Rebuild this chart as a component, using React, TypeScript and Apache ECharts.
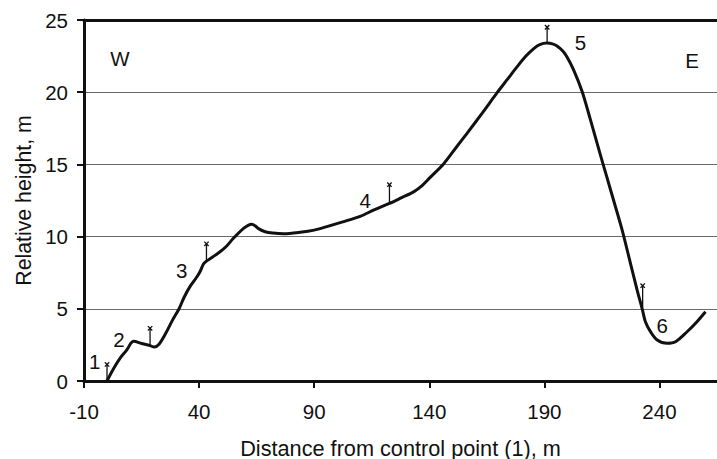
import React, { useEffect, useRef } from "react";
import * as echarts from "echarts";

// Terrain profile (distance m, relative height m)
const profileX = [
  0, 3, 6, 8.6, 10.3, 11.5, 15, 18.7, 20.5, 22.6, 25.5, 28.4, 31.3, 33.5, 36.1, 39, 40.5, 41.9, 43.2,
  46, 49.1, 52, 54.9, 59.3, 61.5, 62.9, 64.3, 65.8, 68.7, 72, 76.7, 83.9, 90, 95.5, 102, 110, 116,
  122.7, 128, 133.2, 137, 140.4, 146.2, 152, 156.4, 163, 169.4, 174, 178.1, 182, 185.4, 188, 191.2,
  193.5, 195.5, 198, 199.9, 202.7, 206.4, 210, 214, 217, 220.1, 223.8, 227.4, 230.3, 232.5, 233.9,
  236.1, 239, 243.3, 247, 252, 256.3, 260,
];
const profileY = [
  0, 0.9, 1.65, 2.15, 2.6, 2.75, 2.6, 2.45, 2.35, 2.55, 3.3, 4.2, 5.0, 5.8, 6.55, 7.2, 7.6, 8.1, 8.3,
  8.6, 8.95, 9.35, 9.88, 10.57, 10.8, 10.85, 10.75, 10.55, 10.34, 10.25, 10.2, 10.3, 10.45, 10.69, 11.0,
  11.4, 11.85, 12.3, 12.7, 13.1, 13.55, 14.1, 15.03, 16.24, 17.15, 18.55, 19.95, 20.9, 21.75, 22.5, 23.02,
  23.3, 23.4, 23.35, 23.2, 22.85, 22.42, 21.55, 20.05, 18.1, 15.85, 14.2, 12.5, 10.45, 8.15, 6.3, 5.0,
  4.11, 3.42, 2.84, 2.61, 2.72, 3.41, 4.11, 4.8,
];

// Measurement markers (vertical stick with a cross on top)
const markerX = [0, 18.7, 43.2, 122.7, 191.2, 232.7];
const markerBase = [0, 2.42, 8.3, 12.3, 23.4, 5.1];
const markerTop = [1.15, 3.65, 9.5, 13.6, 24.5, 6.6];

// Point numbers
const pointLabels = ["1", "2", "3", "4", "5", "6"];
const pointLabelX = [-5.3, 5.2, 32.5, 112.2, 205.7, 241.2];
const pointLabelY = [1.34, 2.84, 7.64, 12.53, 23.43, 3.83];

// Side labels
const sideLabels = ["W", "E"];
const sideLabelX = [5.65, 254.2];
const sideLabelY = [22.35, 22.2];

const xTicks = [-10, 40, 90, 140, 190, 240];

const FONT = '"Liberation Sans", Arial, Helvetica, sans-serif';
const INK = "#111111";

export default function App() {
  const ref = useRef<HTMLDivElement>(null);
  useEffect(() => {
    if (!ref.current) return;
    const chart = echarts.init(ref.current, undefined, { renderer: "svg" });
    const profile = profileX.map((x, i) => [x, profileY[i]]);
    const markers = markerX.map((x, i) => [x, markerBase[i], markerTop[i]]);
    const annos = [
      ...pointLabels.map((n, i) => ({ name: n, value: [pointLabelX[i], pointLabelY[i]] })),
      ...sideLabels.map((n, i) => ({ name: n, value: [sideLabelX[i], sideLabelY[i]] })),
    ];
    chart.setOption({
      animation: false,
      backgroundColor: "#fff",
      textStyle: { fontFamily: FONT, color: INK },
      grid: { left: 84, top: 20, right: 0, bottom: 78, containLabel: false, outerBoundsMode: "none" },
      xAxis: [
        {
          type: "value",
          min: -10,
          max: 265,
          interval: 50,
          position: "bottom",
          name: "Distance from control point (1), m",
          nameLocation: "middle",
          nameGap: 56,
          nameTextStyle: { fontSize: 21.7, color: INK, fontFamily: FONT },
          axisLine: { show: true, onZero: false, lineStyle: { color: INK, width: 3 } },
          axisTick: { show: true, inside: false, length: 7, customValues: xTicks, lineStyle: { color: INK, width: 2 } },
          axisLabel: { show: true, customValues: xTicks, fontSize: 20.5, margin: 20, color: INK, fontFamily: FONT },
          splitLine: { show: false },
        },
        {
          type: "value",
          min: -10,
          max: 265,
          position: "top",
          axisLine: { show: true, onZero: false, lineStyle: { color: INK, width: 3 } },
          axisTick: { show: false },
          axisLabel: { show: false },
          splitLine: { show: false },
        },
      ],
      yAxis: {
        type: "value",
        min: 0,
        max: 25,
        interval: 5,
        name: "Relative height, m",
        nameLocation: "middle",
        nameGap: 50,
        nameTextStyle: { fontSize: 21.3, color: INK, fontFamily: FONT },
        axisLine: { show: true, onZero: false, lineStyle: { color: INK, width: 3 } },
        axisTick: { show: true, inside: false, length: 7, lineStyle: { color: INK, width: 2 } },
        axisLabel: { fontSize: 20.5, margin: 16, color: INK, fontFamily: FONT },
        splitLine: { show: true, lineStyle: { color: "#6a6a6a", width: 1 } },
      },
      series: [
        {
          type: "line",
          data: profile,
          smooth: 0.3,
          symbol: "none",
          lineStyle: { color: INK, width: 3 },
          z: 3,
        },
        {
          type: "custom",
          data: markers,
          z: 4,
          renderItem: (params: any, api: any) => {
            const x = api.value(0);
            const p0 = api.coord([x, api.value(1)]);
            const p1 = api.coord([x, api.value(2)]);
            const s = { stroke: INK, lineWidth: 1.3 };
            const h = 2.2;
            return {
              type: "group",
              children: [
                { type: "line", shape: { x1: p0[0], y1: p0[1], x2: p1[0], y2: p1[1] }, style: s },
                { type: "line", shape: { x1: p1[0] - h, y1: p1[1] - h, x2: p1[0] + h, y2: p1[1] + h }, style: s },
                { type: "line", shape: { x1: p1[0] - h, y1: p1[1] + h, x2: p1[0] + h, y2: p1[1] - h }, style: s },
              ],
            };
          },
        },
        {
          type: "scatter",
          data: annos,
          symbolSize: 0,
          z: 5,
          itemStyle: { opacity: 1 },
          label: {
            show: true,
            position: "inside",
            formatter: (p: any) => p.name,
            fontSize: 20.5,
            color: INK,
            opacity: 1,
            fontFamily: FONT,
          },
        },
      ],
    });
    return () => chart.dispose();
  }, []);
  return (
    <div
      ref={ref}
      style={{ position: "absolute", left: 0, top: 0, width: 717, height: 459, background: "#fff" }}
    />
  );
}
